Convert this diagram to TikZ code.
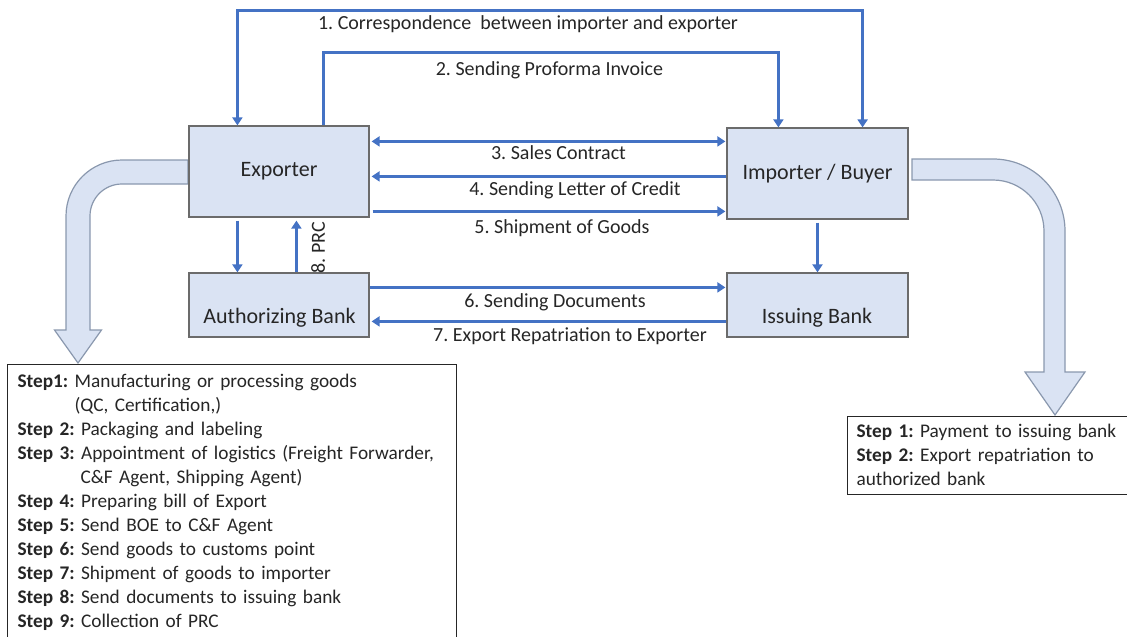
\documentclass[tikz,border=0pt]{standalone}
\usepackage{fontspec}
\setmainfont{Carlito}
\frenchspacing
\hyphenpenalty=10000
\usetikzlibrary{arrows.meta}
\definecolor{flowblue}{HTML}{4472C4}
\definecolor{boxfill}{HTML}{DAE3F3}
\definecolor{boxline}{HTML}{6B6B6B}
\definecolor{bendline}{HTML}{8A98AE}
\definecolor{txt}{HTML}{262626}

\begin{document}
\begin{tikzpicture}[x=1pt,y=-1pt,
  >={Triangle[width=10pt,length=8pt]},
  box/.style={draw=boxline,line width=1.2pt,fill=boxfill,text=txt,font=\fontsize{22}{26}\selectfont},
  boxtext/.style={text=txt,font=\fontsize{22}{26}\selectfont,inner sep=0pt},
  flow/.style={draw=flowblue,line width=3pt},
  lbl/.style={text=txt,font=\fontsize{20}{24}\selectfont,inner sep=0pt},
  bigarrow/.style={draw=bendline,line width=1.2pt,fill=boxfill,line join=miter},
  stepbox/.style={draw=txt,line width=1pt,fill=white,text=txt,font=\fontsize{19.3}{24}\selectfont,align=left,anchor=north west}]
\path[use as bounding box,clip] (0,0) rectangle (1127,637);

\draw[bigarrow] (188,160) -- (122,160) .. controls (91.1,160) and (66,185.1) .. (66,216) -- (66,330) -- (54.5,330) -- (78,363) -- (101.5,330) -- (90,330) -- (90,216) .. controls (90,198.3) and (104.3,184) .. (122,184) -- (188,184) -- cycle;
\draw[bigarrow] (912,159) -- (993,159) .. controls (1032.8,159) and (1065,191.2) .. (1065,231) -- (1065,372) -- (1085,372) -- (1055,415) -- (1025,372) -- (1044,372) -- (1044,231) .. controls (1044,202.8) and (1021.2,180) .. (993,180) -- (912,180) -- cycle;

\node[box,minimum width=180pt,minimum height=91pt] (exp) at (279,171.5) {Exporter};
\node[box,minimum width=181pt,minimum height=91pt] (imp) at (817.5,173.5) {Importer / Buyer};
\node[box,minimum width=180pt,minimum height=64pt] (auth) at (279,305) {};
\node[box,minimum width=181pt,minimum height=64pt] (iss) at (817.5,305) {};
\node[boxtext] (authtext) at (279.5,318) {Authorizing Bank};
\node[boxtext] (isstext) at (817,318) {Issuing Bank};

\draw[flow,<->] ([xshift=49pt]exp.north west) -- ++(0,-115) -| ([xshift=-46pt]imp.north east);
\draw[flow,->] ([xshift=135pt]exp.north west) -- ++(0,-73) -| ([xshift=52pt]imp.north west);
\draw[flow,<->] ([xshift=2pt,yshift=-16pt]exp.north east) -- ([xshift=-1pt,yshift=-14pt]imp.north west);
\draw[flow,->] ([yshift=-49pt]imp.north west) -- ([xshift=2pt,yshift=-51pt]exp.north east);
\draw[flow,->] ([xshift=3pt,yshift=-86pt]exp.north east) -- ([xshift=-1pt,yshift=-84pt]imp.north west);
\draw[flow,->] ([xshift=49pt,yshift=-3pt]exp.south west) -- ([xshift=49pt]auth.north west);
\draw[flow,->] ([xshift=108pt]auth.north west) -- ([xshift=108pt,yshift=-3pt]exp.south west);
\draw[flow,->] ([yshift=-3pt]imp.south) -- (iss.north);
\draw[flow,->] ([yshift=-15pt]auth.north east) -- ([xshift=-1pt,yshift=-15pt]iss.north west);
\draw[flow,->] ([yshift=-49pt]iss.north west) -- ([xshift=2pt,yshift=-49pt]auth.north east);

\node[lbl] (l1) at (528,24) {1. Correspondence\ \ between importer and exporter};
\node[lbl] (l2) at (549.5,70) {2. Sending Proforma Invoice};
\node[lbl] (l3) at (558.5,153) {3. Sales Contract};
\node[lbl] (l4) at (575,190) {4. Sending Letter of Credit};
\node[lbl] (l5) at (562,228) {5. Shipment of Goods};
\node[lbl] (l6) at (555,302) {6. Sending Documents};
\node[lbl] (l7) at (570,336) {7. Export Repatriation to Exporter};
\node[lbl,rotate=90] (l8) at (318,248) {8. PRC};

\node[stepbox,text width=429pt,inner sep=10pt] (expsteps) at (7,364) {\textbf{Step1:} Manufacturing or processing goods\\
\hspace*{57pt}(QC, Certification,)\\
\textbf{Step 2:} Packaging and labeling\\
\textbf{Step 3:} Appointment of logistics (Freight Forwarder,\\
\hspace*{63pt}C\&F Agent, Shipping Agent)\\
\textbf{Step 4:} Preparing bill of Export\\
\textbf{Step 5:} Send BOE to C\&F Agent\\
\textbf{Step 6:} Send goods to customs point\\
\textbf{Step 7:} Shipment of goods to importer\\
\textbf{Step 8:} Send documents to issuing bank\\
\textbf{Step 9:} Collection of PRC};
\node[stepbox,text width=280pt,inner xsep=9pt,inner ysep=8pt] (impsteps) at (847,416) {\textbf{Step 1:} Payment to issuing bank\\
\textbf{Step 2:} Export repatriation to\\
authorized bank};
\end{tikzpicture}
\end{document}
